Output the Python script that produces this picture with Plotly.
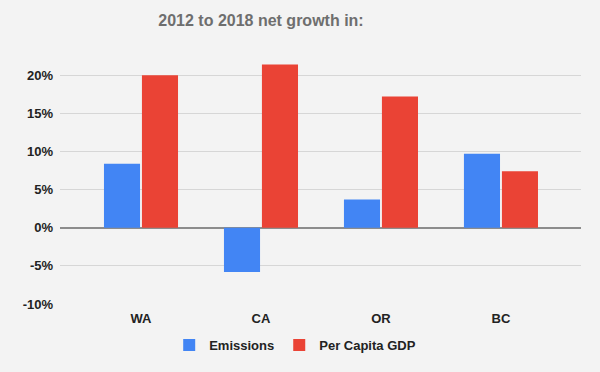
import plotly.graph_objects as go

categories = ["WA", "CA", "OR", "BC"]
emissions = [8.4, -5.8, 3.7, 9.7]
per_capita_gdp = [20.0, 21.4, 17.2, 7.4]
tick_vals = [-10, -5, 0, 5, 10, 15, 20]
tick_text = ["-10%", "-5%", "0%", "5%", "10%", "15%", "20%"]

fig = go.Figure()
fig.add_trace(go.Bar(x=categories, y=emissions, name="<b>Emissions</b>",
                     marker=dict(color="#4285F4", line=dict(width=0))))
fig.add_trace(go.Bar(x=categories, y=per_capita_gdp, name="<b>Per Capita GDP</b>",
                     marker=dict(color="#EA4335", line=dict(width=0))))

fig.update_layout(
    width=600, height=372,
    paper_bgcolor="#f3f3f3", plot_bgcolor="#f3f3f3",
    margin=dict(l=60, r=19, t=60, b=68, autoexpand=False),
    barmode="group", bargap=0.367, bargroupgap=0.05,
    font=dict(family="Liberation Sans, Arial, sans-serif", color="#222222", size=13),
    title=dict(text="<b>2012 to 2018 net growth in:</b>", x=261 / 600, xref="container",
               xanchor="center", y=1 - 20 / 372, yref="container", yanchor="middle",
               font=dict(size=16, color="#6e6e6e")),
    legend=dict(orientation="h", x=0.492, xref="container", xanchor="center",
                y=1 - 345 / 372, yref="container", yanchor="middle",
                font=dict(size=13, color="#222222"), bgcolor="rgba(0,0,0,0)",
                itemwidth=30, traceorder="normal"),
    xaxis=dict(range=[-0.675, 3.667], showgrid=False, zeroline=False, showline=False,
               automargin=False, ticklabelstandoff=5,
               ticks="", tickfont=dict(size=13, color="#222222"),
               tickvals=categories, ticktext=["<b>" + c + "</b>" for c in categories]),
    yaxis=dict(range=[-10, 22], tickvals=tick_vals, automargin=False,
               ticktext=["<b>" + t + "</b>" for t in tick_text],
               showgrid=True, gridcolor="#d6d6d6", gridwidth=1,
               zeroline=True, zerolinecolor="#8c8c8c", zerolinewidth=1.5,
               showline=False, ticks="", ticklabelstandoff=6,
               tickfont=dict(size=13, color="#222222")),
)

fig.write_html("out.html", config={"displayModeBar": False},
               post_script="document.body.style.margin='0';document.body.style.overflow='hidden';")
